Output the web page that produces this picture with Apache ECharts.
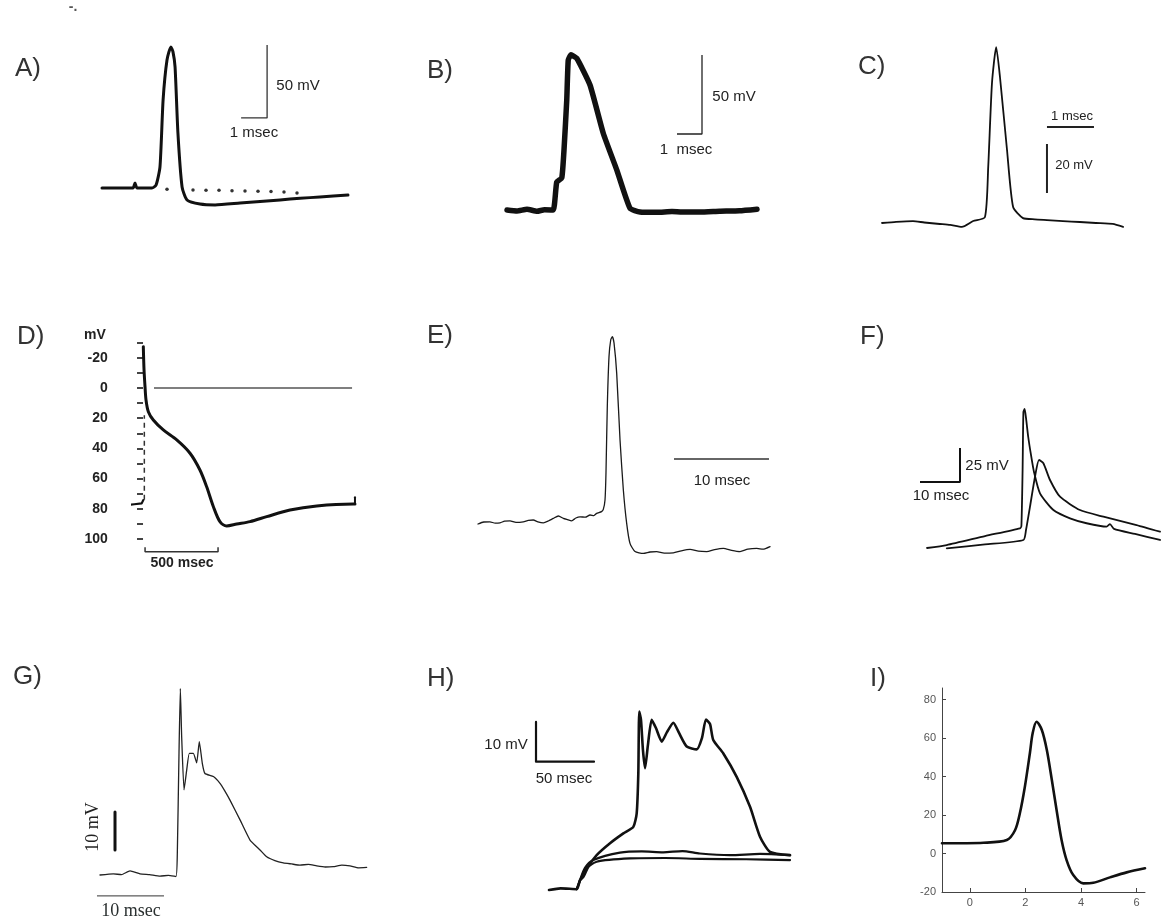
<!DOCTYPE html>
<html>
<head>
<meta charset="utf-8">
<script src="https://cdn.jsdelivr.net/npm/echarts@6/dist/echarts.min.js"></script>
<style>
  html, body { margin: 0; padding: 0; background: #fff; }
  #chart { width: 1161px; height: 923px; }
</style>
</head>
<body>
<div id="chart"></div>
<script>
// ---------- Recorded traces: [time (ms), membrane potential (mV)] ----------

// A) squid-axon style spike with after-hyperpolarisation
const traceA = [[0,-70],[1.19,-70],[1.27,-66.6],[1.35,-70],[1.92,-70],[2.08,-68],[2.23,-55.6],[2.35,-9.7],[2.5,17.7],
  [2.65,26.6],[2.73,23.2],[2.81,12.9],[2.92,-32.3],[3.08,-69.3],[3.27,-78.2],[3.77,-81],[4.35,-81.6],
  [5.31,-80.3],[6.85,-78.2],[7.62,-77],[8.38,-76.2],[9.46,-74.8]];
const dotsA = [[2.5,-70.9],[3.5,-71.4],[4.0,-71.6],[4.5,-71.6],[5.0,-71.8],[5.5,-72],[6.0,-72.2],[6.5,-72.4],[7.0,-72.8],[7.5,-73.4]];
const barA = [[5.35,-22],[6.35,-22],[6.35,28]];

// B) broad spike with a shoulder on the upstroke
const traceB = [[0,-70],[0.4,-70.6],[0.8,-69.5],[1.2,-70.8],[1.5,-69.8],[1.85,-70],[1.99,-52.3],[2.19,-49.7],[2.28,-32],
  [2.39,-0.4],[2.45,24.9],[2.56,28.2],[2.79,26],[3.32,9.1],[3.85,-21.4],[4.39,-44.6],[4.92,-68.9],[5.32,-71.3],
  [6.0,-71.5],[6.6,-70.9],[7.0,-71.3],[7.72,-71.3],[8.5,-70.8],[9.3,-70.5],[10.0,-69.5]];
const barB = [[6.8,-21.9],[7.8,-21.9],[7.8,28.1]];

// C) narrow spike on a noisy baseline
const traceC = [[0,-70],[0.3,-69.5],[0.66,-69.2],[0.9,-69.8],[1.23,-70.4],[1.45,-70.8],[1.7,-71.6],[1.94,-69.2],[2.19,-67.6],
  [2.26,-47.1],[2.34,-12.9],[2.43,1.8],[2.51,-10.4],[2.66,-40.2],[2.79,-63.5],[3.0,-68],[3.25,-68.5],[3.51,-68.8],
  [3.85,-69.2],[4.21,-69.6],[4.55,-70],[4.91,-70.4],[5.13,-71.6]];
const barC_time = [[3.51,-30.8],[4.51,-30.8]];
const barC_volt = [[3.51,-37.8],[3.51,-57.8]];

// D) cardiac action potential, axis in mV below zero (positive = hyperpolarised)
const dTicks = [-30,-20,-10,0,10,20,30,40,50,60,70,80,90,100];
const dRest = [[-112,77.5],[-60,77],[-9,76.4],[2,76.4],[2,74.2]];
const dUpstroke = [[9,74],[9,18]];
const dAP = [[2,-27.4],[7,-11.9],[13.7,-0.9],[20.5,7.9],[36.5,15.7],[70.5,21.2],[139,27.8],[231,34.4],[322,43.2],
  [390,54.3],[436,65.4],[482,78.6],[527,88.5],[573,91.4],[642,90.1],[733,88.5],[847,85.2],[1007,80.8],[1190,78.1],
  [1440,76.8],[1452,76.8]];
const dEndTick = [[1452,76.8],[1452,72.4]];
const dZero = [[75,0],[1432,0]];
const dBar = [[14,105.5],[14,108.4],[514,108.4],[514,105.5]];

// E) spike with a noisy baseline and deep after-potential
const traceE = [[0,-70],[0.6,-69],[1.26,-68.9],[1.8,-69.6],[2.32,-69.4],[2.8,-68.6],[3.37,-68.4],[4.0,-69.2],[4.77,-68.9],
  [5.3,-68.2],[5.82,-68],[6.3,-68.9],[6.88,-69.4],[7.4,-68.5],[7.93,-67.2],[8.46,-66],[8.98,-67.2],[9.4,-67.8],
  [9.86,-68.4],[10.3,-67],[10.74,-66.4],[11.3,-66.6],[11.79,-65.5],[12.2,-65.8],[12.49,-64.7],[13.0,-63.8],[13.19,-62.7],
  [13.37,-58],[13.47,-44.7],[13.61,-11.4],[13.79,13.7],[13.97,22],[14.14,23.7],[14.32,20.4],[14.6,5.3],[14.95,-28],
  [15.3,-53],[15.65,-69.7],[16.0,-79.7],[16.53,-83.8],[17.4,-84.7],[18.1,-84],[18.81,-83.8],[19.6,-84.6],[20.56,-84.4],
  [21.4,-83.4],[22.32,-82.7],[23.2,-83.6],[24.07,-83.8],[24.9,-82.8],[25.82,-82.2],[26.7,-83.2],[27.58,-83.8],
  [28.4,-82.6],[29.34,-82.2],[30.0,-82.6],[30.74,-81.3]];
const barE = [[20.63,-37.5],[30.63,-37.5]];

// F) two superimposed spikes
const traceF1 = [[0,-70],[4.93,-67.8],[14.5,-61.2],[23.25,-55.5],[23.6,-53.8],[23.9,-12.6],[24.1,30],[24.4,32.2],
  [24.75,25.6],[25.3,11.8],[26,-1.6],[26.75,-14.1],[28.25,-29.8],[31.6,-42.1],[35.75,-48.2],[39.9,-51.8],[44.9,-54.3],
  [45.75,-52.4],[46.75,-56],[52,-59.7],[58.25,-64.1]];
const traceF2 = [[4.93,-70.2],[14.5,-67.4],[24.1,-64.1],[24.75,-56.8],[25.75,-39.6],[27,-17.6],[28,-5.3],[29.1,-7.7],
  [30.75,-20],[33.25,-32.3],[38.25,-42.1],[44.1,-47],[52.4,-53.1],[58.25,-58]];
const barF = [[-1.75,-21.5],[8.25,-21.5],[8.25,3.5]];

// G) spike followed by a plateau with secondary humps
const traceG = [[0,-70],[1.99,-69.7],[3.2,-69.9],[4.48,-68.9],[5.97,-69.7],[7.4,-69.9],[8.96,-70.3],[10.2,-70.1],[11.34,-70.4],
  [11.54,-64.3],[11.79,-38],[11.99,-20.9],[12.19,-33.6],[12.54,-47.6],[12.94,-42.4],[13.33,-38],[13.93,-38],[14.43,-40.5],
  [14.82,-34.9],[15.27,-40.6],[15.67,-43.3],[16.92,-44.1],[17.91,-45.9],[18.6,-47.8],[19.4,-50.3],[20.9,-55.5],
  [22.39,-60.8],[23.88,-63.4],[24.88,-65.2],[26.1,-66.2],[27.36,-66.8],[28.6,-67.1],[29.85,-67.4],[31.1,-67.2],
  [32.34,-67.6],[33.6,-67.9],[34.83,-67.8],[36.1,-67.4],[37.31,-67.6],[38.6,-68.1],[39.8,-68]];
const barG_volt = [[2.24,-53.4],[2.24,-63.4]];
const barG_time = [[-0.45,-75.5],[9.55,-75.5]];

// H) suprathreshold burst and two subthreshold responses
const traceH = [[0,-70],[10,-69.6],[23.9,-69.8],[26.7,-67.6],[29.6,-66.8],[33.9,-64.3],[41.1,-61.5],[52.6,-58.6],
  [64.1,-56.2],[72.7,-54.6],[75.6,-51.3],[77,-41.5],[77.8,-26.5],[79.3,-28.5],[81,-35.9],[82.8,-40.3],[85.3,-34.6],
  [88.5,-28.5],[92.2,-30.5],[97.2,-33.8],[101.7,-31.5],[107.2,-29.2],[112.1,-31.7],[118.7,-35],[127.3,-35.7],
  [131.9,-32.9],[135.3,-28.4],[138.8,-29.5],[141.6,-33.4],[150.3,-36.7],[161.8,-42.4],[173.3,-49.7],[181.9,-57],
  [190.5,-60.7],[207.8,-61.5]];
const traceHsub1 = [[23.9,-69.8],[26.7,-67.6],[31,-64.6],[38.2,-62.7],[61.2,-60.9],[80,-60.6],[98.5,-60.8],[115,-60.5],
  [130,-61.1],[156,-61.5],[181.9,-61.2],[207.8,-61.5]];
const traceHsub2 = [[23.9,-69.8],[26.7,-67.8],[31,-65.1],[41.1,-63.1],[69.8,-62.3],[100,-62.2],[130.2,-62.4],
  [170,-62.5],[207.8,-62.7]];
const barH = [[-11.2,-29],[-11.2,-38.7],[38.8,-38.7]];

// I) simulated action potential on labelled axes
const traceI = [[-1,5.3],[0.49,5.6],[1.33,7],[1.63,12.2],[1.8,20.9],[1.98,34.7],[2.16,52.1],[2.26,62.5],[2.4,68.5],
  [2.59,64.2],[2.77,53.8],[2.95,38.2],[3.12,22.6],[3.3,7],[3.48,-3.4],[3.72,-11.2],[4.08,-15.5],[4.44,-15.2],
  [5.04,-12.4],[5.64,-9.8],[6.3,-7.7]];
const iTicksX = [0, 2, 4, 6];

// ---------- Layout ----------
// x0,y0: pixel position of t = 0 ms and V = -70 mV; kx px per ms, ky px per mV
const FR = {
  A: {x0: 102, y0: 188, kx: 26,   ky: 1.46, t: [0, 10],    v: [-90, 35]},
  B: {x0: 507, y0: 210, kx: 25,   ky: 1.58, t: [0, 10.2],  v: [-80, 35]},
  C: {x0: 882, y0: 223, kx: 47,   ky: 2.45, t: [0, 5.2],   v: [-75, 5]},
  E: {x0: 478, y0: 524, kx: 9.5,  ky: 2,    t: [0, 31],    v: [-90, 30]},
  F: {x0: 927, y0: 548, kx: 4,    ky: 1.36, t: [-2, 59],   v: [-72, 40]},
  G: {x0: 100, y0: 875, kx: 6.7,  ky: 3.8,  t: [-1, 40],   v: [-78, -18]},
  H: {x0: 549, y0: 890, kx: 1.16, ky: 4.1,  t: [-12, 209], v: [-72, -24]}
};
function frameGrid(f) {
  return {
    left: f.x0 + f.t[0] * f.kx,
    width: (f.t[1] - f.t[0]) * f.kx,
    top: f.y0 - (f.v[1] + 70) * f.ky,
    height: (f.v[1] - f.v[0]) * f.ky,
    outerBoundsMode: 'none'
  };
}

const order = ['A', 'B', 'C', 'D', 'E', 'F', 'G', 'H', 'I'];
const grids = [], xAxes = [], yAxes = [];
order.forEach((k, i) => {
  if (FR[k]) {
    grids.push(frameGrid(FR[k]));
    xAxes.push({type: 'value', gridIndex: i, min: FR[k].t[0], max: FR[k].t[1], show: false});
    yAxes.push({type: 'value', gridIndex: i, min: FR[k].v[0], max: FR[k].v[1], show: false});
  } else if (k === 'D') {
    grids.push({left: 132.8, top: 342.7, width: 224.8, height: 196.3, outerBoundsMode: 'none'});
    xAxes.push({type: 'value', gridIndex: i, min: -70, max: 1470, show: false});
    yAxes.push({
      type: 'value', gridIndex: i, inverse: true, min: dTicks[0], max: dTicks[dTicks.length - 1], interval: 10,
      axisLine: {show: false},
      axisTick: {show: true, inside: false, length: 6, lineStyle: {color: '#444', width: 2}},
      splitLine: {show: false},
      axisLabel: {
        margin: 25, color: '#222', fontSize: 14, fontWeight: 'bold', fontFamily: 'Liberation Sans',
        formatter: v => (v % 20 === 0 ? String(v) : '')
      }
    });
  } else {
    grids.push({left: 942, top: 688, width: 203, height: 204, outerBoundsMode: 'none'});
    xAxes.push({
      type: 'value', gridIndex: i, min: -1, max: 6.3,
      axisLine: {onZero: false, lineStyle: {color: '#444', width: 1}},
      axisTick: {show: true, inside: true, length: 4, customValues: iTicksX, lineStyle: {color: '#444'}},
      axisLabel: {customValues: iTicksX, margin: 5, color: '#555', fontSize: 11, fontFamily: 'Liberation Sans'},
      splitLine: {show: false}
    });
    yAxes.push({
      type: 'value', gridIndex: i, min: -20, max: 86, interval: 20,
      axisLine: {show: true, onZero: false, lineStyle: {color: '#444', width: 1}},
      axisTick: {show: true, inside: true, length: 4, lineStyle: {color: '#444'}},
      axisLabel: {margin: 6, color: '#555', fontSize: 11, fontFamily: 'Liberation Sans', showMaxLabel: false},
      splitLine: {show: false}
    });
  }
});

function line(panel, data, width, extra) {
  const i = order.indexOf(panel);
  return Object.assign({
    type: 'line', xAxisIndex: i, yAxisIndex: i, data: data, showSymbol: false, symbol: 'none',
    clip: false, silent: true, animation: false, smooth: false,
    lineStyle: {color: '#111', width: width, join: 'round', cap: 'round'}
  }, extra || {});
}
// recorded traces are drawn as gently smoothed curves
const curveW = (w, c, s) => ({
  smooth: s === undefined ? 0.25 : s,
  lineStyle: {color: c || '#111', width: w, join: 'round', cap: 'round'}
});

const series = [
  line('A', traceA, 3, curveW(3, '#111', 0.2)),
  {type: 'scatter', xAxisIndex: 0, yAxisIndex: 0, data: dotsA, symbolSize: 3.5, clip: false, silent: true,
   animation: false, itemStyle: {color: '#000'}},
  line('A', barA, 1.3, {lineStyle: {color: '#333', width: 1.3}}),

  line('B', traceB, 5.5, curveW(5.5, '#111', 0.15)),
  line('B', barB, 1.3, {lineStyle: {color: '#222', width: 1.3}}),

  line('C', traceC, 1.8, curveW(1.8, '#111', 0.2)),
  line('C', barC_time, 2, {lineStyle: {color: '#222', width: 2}}),
  line('C', barC_volt, 2, {lineStyle: {color: '#222', width: 2}}),

  line('D', dRest, 2.2),
  line('D', dUpstroke, 1.5, {lineStyle: {color: '#333', width: 1.5, type: [5, 4]}}),
  line('D', dAP, 3, curveW(3, '#111', 0.3)),
  line('D', dEndTick, 2),
  line('D', dZero, 1.6, {lineStyle: {color: '#555', width: 1.6}}),
  line('D', dBar, 1.5, {lineStyle: {color: '#333', width: 1.5}}),

  line('E', traceE, 1.3, curveW(1.3, '#1a1a1a', 0.2)),
  line('E', barE, 1.5, {lineStyle: {color: '#333', width: 1.5}}),

  line('F', traceF1, 1.8, curveW(1.8, '#111', 0.2)),
  line('F', traceF2, 1.8, curveW(1.8, '#111', 0.2)),
  line('F', barF, 2, {lineStyle: {color: '#111', width: 2}}),

  line('G', traceG, 1.3, curveW(1.3, '#222', 0.15)),
  line('G', barG_volt, 3),
  line('G', barG_time, 1, {lineStyle: {color: '#333', width: 1}}),

  line('H', traceHsub1, 2.2, curveW(2.2, '#111', 0.25)),
  line('H', traceHsub2, 2.2, curveW(2.2, '#111', 0.25)),
  line('H', traceH, 2.6, curveW(2.6, '#111', 0.2)),
  line('H', barH, 2.2),

  line('I', traceI, 2.6, curveW(2.6, '#111', 0.3))
];

// ---------- Panel letters and scale-bar captions ----------
function txt(x, y, text, size, opts) {
  const o = opts || {};
  return {
    type: 'text', x: x, y: y, rotation: o.rotation || 0, silent: true,
    style: {
      text: text, fill: o.fill || '#222', fontSize: size,
      fontFamily: o.family || 'Liberation Sans', fontWeight: o.weight || 'normal',
      textAlign: o.align || 'center', textVerticalAlign: 'middle'
    }
  };
}
const panelLetter = (x, y, s) => txt(x, y, s, 26, {align: 'left', fill: '#333'});

const graphics = [
  txt(73, 7, '-.', 14, {fill: '#555', weight: 'bold'}),
  panelLetter(15, 69, 'A)'), panelLetter(427, 71, 'B)'), panelLetter(858, 67, 'C)'),
  panelLetter(17, 337, 'D)'), panelLetter(427, 336, 'E)'), panelLetter(860, 337, 'F)'),
  panelLetter(13, 677, 'G)'), panelLetter(427, 679, 'H)'), panelLetter(870, 679, 'I)'),

  txt(298, 86, '50 mV', 15), txt(254, 133, '1 msec', 15),
  txt(734, 97, '50 mV', 15), txt(686, 150, '1  msec', 15),
  txt(1072, 116, '1 msec', 13), txt(1074, 165, '20 mV', 13),
  txt(95, 335, 'mV', 14, {weight: 'bold'}), txt(182, 563, '500 msec', 14, {weight: 'bold'}),
  txt(722, 481, '10 msec', 15),
  txt(987, 466, '25 mV', 15), txt(941, 496, '10 msec', 15),
  txt(93, 827, '10 mV', 18, {family: 'Liberation Serif', rotation: Math.PI / 2}),
  txt(131, 911, '10 msec', 18, {family: 'Liberation Serif', fill: '#2a3030'}),
  txt(506, 745, '10 mV', 15), txt(564, 779, '50 msec', 15)
];

const chart = echarts.init(document.getElementById('chart'), null, {renderer: 'canvas'});
chart.setOption({
  animation: false,
  backgroundColor: '#fff',
  grid: grids,
  xAxis: xAxes,
  yAxis: yAxes,
  series: series,
  graphic: graphics
});
</script>
</body>
</html>
